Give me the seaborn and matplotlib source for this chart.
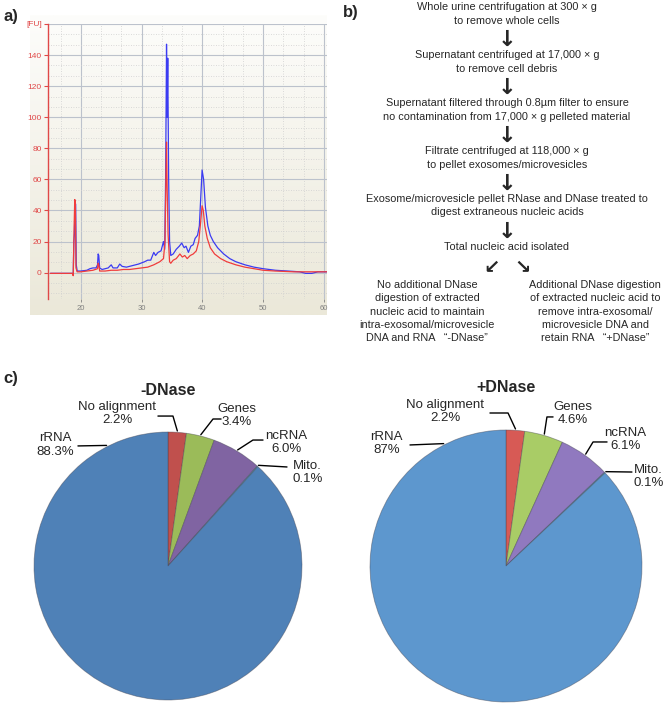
import numpy as np
import pandas as pd
import seaborn as sns
import matplotlib.pyplot as plt
from matplotlib.colors import LinearSegmentedColormap
from matplotlib.ticker import MultipleLocator

W, H = 668, 705

# Electropherogram traces (time vs fluorescence units)
blue_t = [15.0, 18.6, 18.75, 18.85, 18.95, 19.05, 19.15, 19.25, 19.4, 20.0, 21.0, 21.5,
          22.0, 22.5, 22.75, 22.85, 22.95, 23.1, 23.5, 24.0, 24.5, 25.0, 25.3, 26.0,
          26.4, 26.8, 27.5, 28.5, 29.5, 30.5, 31.0, 31.5, 32.0, 32.3, 32.7, 33.2,
          33.6, 33.8, 33.95, 34.1, 34.2, 34.3, 34.45, 34.6, 34.8, 35.2, 35.7, 36.2,
          36.6, 37.0, 37.3, 37.7, 38.1, 38.5, 38.8, 39.2, 39.5, 39.75, 39.95, 40.2,
          40.5, 40.9, 41.3, 41.8, 42.5, 43.5, 44.5, 45.5, 47.0, 48.5, 50.0, 52.0,
          54.0, 56.0, 57.0, 58.0, 59.0, 61.0]
blue_fu = [-0.5, -0.5, -1.5, 20, 25, 45, 44, 5, 1, 1, 1.5, 2.5,
           3, 3, 5, 12, 11, 3, 2, 2.5, 3, 5, 3, 3,
           5.5, 4, 3.5, 4.5, 5.5, 7, 8, 8, 13, 11, 13, 14,
           20, 15, 60, 147, 100, 138, 60, 20, 11, 12, 15, 17,
           19, 16, 17, 13, 17, 18, 22, 24, 30, 50, 66, 60,
           42, 30, 24, 20, 16, 12, 9, 7, 5, 3.5, 2.5, 1.5,
           1, 0.5, -0.5, -0.5, 0.5, 0.5]
red_t = [15.0, 18.6, 18.75, 18.9, 19.0, 19.1, 19.2, 19.4, 20.0, 21.0, 22.0, 22.75,
         22.85, 22.95, 23.1, 24.0, 25.0, 26.0, 27.0, 28.0, 29.0, 30.0, 31.0, 32.0,
         33.0, 33.6, 33.85, 34.0, 34.1, 34.2, 34.35, 34.6, 34.8, 35.2, 35.7, 36.3,
         36.7, 37.1, 37.5, 38.0, 38.5, 39.0, 39.4, 39.7, 39.95, 40.15, 40.4, 40.8,
         41.3, 42.0, 43.0, 44.0, 45.5, 47.0, 48.5, 50.0, 52.0, 55.0, 58.0, 61.0]
red_fu = [-0.5, -0.5, -2, 30, 47, 46, 3, 0.5, 0.5, 1, 1.5, 2.5,
          6, 5, 1, 1, 1.5, 1.5, 2, 2, 2.5, 3, 3.5, 5,
          7, 9, 20, 60, 84, 55, 25, 7, 6, 8, 9, 12,
          10, 11, 9, 11, 12, 14, 20, 32, 43, 40, 30, 22,
          16, 12, 9, 7, 5, 3.5, 2.5, 1.5, 1, 0.5, 0.5, 0.5]

fu_ticks = [0, 20, 40, 60, 80, 100, 120, 140, 160]
fu_labels = ["0", "20", "40", "60", "80", "100", "120", "140", "[FU]"]
t_ticks = [20, 30, 40, 50, 60]

# Pie data
categories = ["No alignment", "Genes", "ncRNA", "Mito.", "rRNA"]
minus_dnase = [2.2, 3.4, 6.0, 0.1, 88.3]
plus_dnase = [2.2, 4.6, 6.1, 0.1, 87.0]
minus_pct = ["2.2%", "3.4%", "6.0%", "0.1%", "88.3%"]
plus_pct = ["2.2%", "4.6%", "6.1%", "0.1%", "87%"]

# Flowchart
flow_steps = [
    ["Whole urine centrifugation at 300 \u00d7 g", "to remove whole cells"],
    ["Supernatant centrifuged at 17,000 \u00d7 g", "to remove cell debris"],
    ["Supernatant filtered through 0.8\u00b5m filter to ensure",
     "no contamination from 17,000 \u00d7 g pelleted material"],
    ["Filtrate centrifuged at 118,000 \u00d7 g", "to pellet exosomes/microvesicles"],
    ["Exosome/microvesicle pellet RNase and DNase treated to",
     "digest extraneous nucleic acids"],
    ["Total nucleic acid isolated"],
]
branch_left = ["No additional DNase", "digestion of extracted", "nucleic acid to maintain",
               "intra-exosomal/microvesicle", "DNA and RNA   \u201c-DNase\u201d"]
branch_right = ["Additional DNase digestion", "of extracted nucleic acid to",
                "remove intra-exosomal/", "microvesicle DNA and",
                "retain RNA   \u201c+DNase\u201d"]

sns.set_theme(style="white")
plt.rcParams['font.family'] = ['Liberation Sans', 'DejaVu Sans']


def fx(x):
    return x / W


def fy(y):
    return 1 - y / H


fig = plt.figure(figsize=(W / 100, H / 100), dpi=100)

# ---- a) electropherogram ----
bg = fig.add_axes([fx(30), fy(315), 297 / W, 300 / H])
cmap = LinearSegmentedColormap.from_list("beige", ["#fdfdfb", "#ebe8d9"])
bg.imshow(np.linspace(0, 1, 200)[:, None], aspect="auto", cmap=cmap, extent=[0, 1, 0, 1])
bg.axis("off")

ax = fig.add_axes([fx(48), fy(299), 279 / W, 275 / H])
ax.set_facecolor("none")
traces = pd.concat([
    pd.DataFrame({"t": blue_t, "fu": blue_fu, "trace": "blue"}),
    pd.DataFrame({"t": red_t, "fu": red_fu, "trace": "red"}),
])
sns.lineplot(data=traces, x="t", y="fu", hue="trace", hue_order=["blue", "red"],
             palette={"blue": "#3b3bf2", "red": "#f03c3c"}, sort=False,
             estimator=None, legend=False, lw=0.9, ax=ax)
ax.set_xlim(14.6, 60.5)
ax.set_ylim(-17, 160)
ax.set_xlabel("")
ax.set_ylabel("")
ax.set_yticks(fu_ticks)
ax.set_yticklabels(fu_labels)
ax.set_xticks(t_ticks)
ax.xaxis.set_minor_locator(MultipleLocator(10 / 3))
ax.yaxis.set_minor_locator(MultipleLocator(20 / 3))
ax.grid(True, which="major", color="#bcc2cc", lw=0.8)
ax.grid(True, which="minor", color="#cfcfcf", lw=0.6, linestyle=(0, (1, 2)))
ax.set_axisbelow(True)
for s in ["top", "right", "bottom"]:
    ax.spines[s].set_visible(False)
ax.spines["left"].set_color("#e04848")
ax.spines["left"].set_linewidth(1.0)
ax.tick_params(axis="y", which="major", colors="#e04848", labelsize=6,
               length=3, width=0.8, pad=1.5, left=True)
ax.tick_params(axis="x", which="major", colors="#808080", labelsize=5.5,
               length=2, width=0.6, pad=2, bottom=True)
ax.tick_params(which="minor", length=0)

# ---- b) flowchart ----
cx = 507
ty = 7
for i, step in enumerate(flow_steps):
    for j, line in enumerate(step):
        fig.text(fx(cx), fy(ty + 13.5 * j), line, ha="center", va="center", fontsize=7.8)
    if i < len(flow_steps) - 1:
        fig.text(fx(cx), fy(ty + 33), "\u2193", ha="center", va="center", fontsize=16,
                 fontweight="bold", family="DejaVu Sans")
    ty += 48
fig.text(fx(492), fy(268), "\u2199", ha="center", va="center", fontsize=14,
         fontweight="bold", family="DejaVu Sans")
fig.text(fx(523), fy(268), "\u2198", ha="center", va="center", fontsize=14,
         fontweight="bold", family="DejaVu Sans")
for j, line in enumerate(branch_left):
    fig.text(fx(427), fy(285 + 13.3 * j), line, ha="center", va="center", fontsize=7.8)
for j, line in enumerate(branch_right):
    fig.text(fx(595), fy(285 + 13.3 * j), line, ha="center", va="center", fontsize=7.8)

# ---- c) pies ----
minus_colors = ["#c0504d", "#9bbb59", "#8064a2", "#4bacc6", "#4f81b7"]
plus_colors = ["#d75a55", "#a9cc66", "#9079bf", "#4bacc6", "#5d97ce"]

# label layout in pie-radius units: text centre, tail (near text), elbow
minus_layout = [((-0.38, 1.135), (-0.075, 1.119), (0.037, 1.119)),
                ((0.515, 1.122), (0.396, 1.097), (0.336, 1.097)),
                ((0.885, 0.925), (0.709, 0.940), (0.634, 0.940)),
                ((1.04, 0.70), (0.888, 0.739), None),
                ((-0.843, 0.903), (-0.672, 0.896), None)]
plus_layout = [((-0.445, 1.133), (-0.118, 1.125), (0.015, 1.125)),
               ((0.49, 1.118), (0.346, 1.096), (0.301, 1.096)),
               ((0.88, 0.927), (0.743, 0.912), (0.640, 0.912)),
               ((1.047, 0.658), (0.926, 0.691), None),
               ((-0.88, 0.90), (-0.706, 0.890), None)]


def draw_pie(rect, values, pcts, colors, layout, title):
    pa = fig.add_axes(rect)
    pa.pie(values, colors=colors, startangle=90, counterclock=False, radius=1,
           wedgeprops=dict(edgecolor=(0.25, 0.25, 0.3, 0.45), linewidth=0.6))
    pa.set_xlim(-1, 1)
    pa.set_ylim(-1, 1)
    pa.set_aspect("equal")
    pa.axis("off")
    pa.text(0, 1.31, title, ha="center", va="center", fontsize=11.5, fontweight="bold")
    cum = np.cumsum(values) - np.array(values) / 2
    for k, (cat, pct) in enumerate(zip(categories, pcts)):
        (tx, tyy), tail, elbow = layout[k]
        ang = np.deg2rad(90 - 360 * cum[k] / 100) if cat != "rRNA" else np.deg2rad(117)
        anchor = (1.01 * np.cos(ang), 1.01 * np.sin(ang))
        pts = [tail] + ([elbow] if elbow else []) + [anchor]
        pa.plot([p[0] for p in pts], [p[1] for p in pts], color="black", lw=1.0,
                clip_on=False)
        pa.text(tx, tyy, cat + "\n" + pct, ha="center", va="center", fontsize=9.5,
                linespacing=1.12, clip_on=False)


draw_pie([fx(34), fy(700), 268 / W, 268 / H], minus_dnase, minus_pct, minus_colors,
         minus_layout, "-DNase")
draw_pie([fx(370), fy(702), 272 / W, 272 / H], plus_dnase, plus_pct, plus_colors,
         plus_layout, "+DNase")

# panel letters
fig.text(fx(4), fy(16), "a)", fontsize=12, fontweight="bold", va="center")
fig.text(fx(343), fy(12), "b)", fontsize=12, fontweight="bold", va="center")
fig.text(fx(3), fy(378), "c)", fontsize=12, fontweight="bold", va="center")

fig.savefig("out.png", dpi=100)
